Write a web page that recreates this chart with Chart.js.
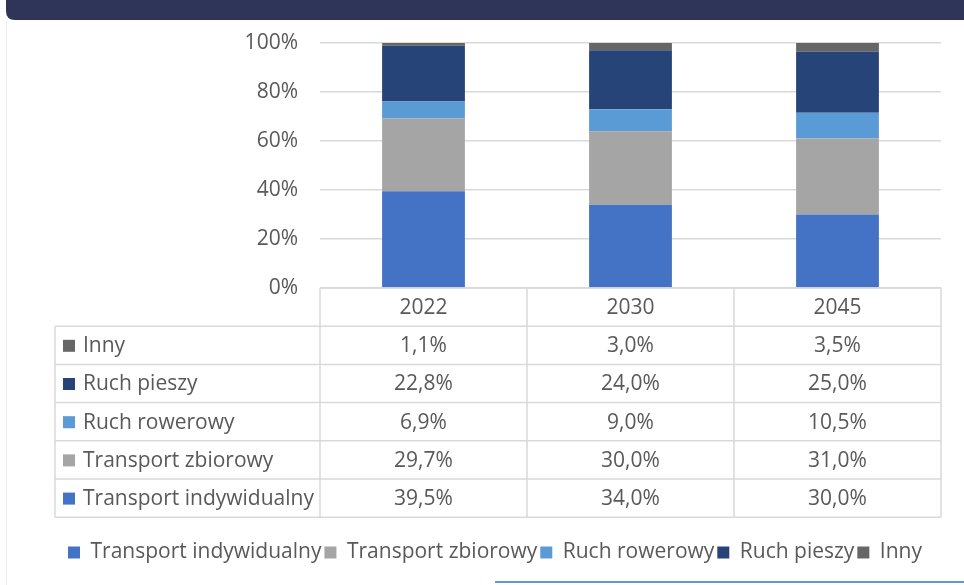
<!DOCTYPE html>
<html>
<head>
<meta charset="utf-8">
<script src="https://cdn.jsdelivr.net/npm/chart.js@4.4.1/dist/chart.umd.min.js"></script>
<style>
  html, body { margin: 0; padding: 0; background: #fff; }
  #wrap { width: 964px; height: 585px; position: relative; }
</style>
</head>
<body>
<div id="wrap"><canvas id="chart"></canvas></div>
<script>
var years = ['2022', '2030', '2045'];
var seriesNames = ['Transport indywidualny', 'Transport zbiorowy', 'Ruch rowerowy', 'Ruch pieszy', 'Inny'];
var indywidualny = [39.5, 34.0, 30.0];
var zbiorowy = [29.7, 30.0, 31.0];
var rowerowy = [6.9, 9.0, 10.5];
var pieszy = [22.8, 24.0, 25.0];
var inny = [1.1, 3.0, 3.5];
var yTicks = [0, 20, 40, 60, 80, 100];

var colors = ['#4472C4', '#A5A5A5', '#5B9BD5', '#264478', '#666666'];
var textColor = '#595959';
var lineColor = '#D9D9D9';
var fontFamily = '"Open Sans", sans-serif';

function pct(v) {
    return v.toFixed(1).replace('.', ',') + '%';
}

// frame pieces around the chart (header bar, left edge, bottom accent)
var framePlugin = {
    id: 'frame',
    beforeDraw: function(chart) {
        var ctx = chart.ctx;
        ctx.save();
        ctx.fillStyle = '#2E3559';
        ctx.beginPath();
        ctx.moveTo(6, -10);
        ctx.lineTo(6, 11);
        ctx.quadraticCurveTo(6, 20, 15, 20);
        ctx.lineTo(964, 20);
        ctx.lineTo(964, -10);
        ctx.closePath();
        ctx.fill();
        ctx.strokeStyle = '#ECECEC';
        ctx.lineWidth = 1;
        ctx.beginPath();
        ctx.moveTo(6.5, 20);
        ctx.lineTo(6.5, 585);
        ctx.stroke();
        ctx.strokeStyle = '#5B9BD5';
        ctx.lineWidth = 2;
        ctx.beginPath();
        ctx.moveTo(495, 582);
        ctx.lineTo(964, 582);
        ctx.stroke();
        ctx.restore();
    }
};

// data table under the plot
var tablePlugin = {
    id: 'dataTable',
    afterDraw: function(chart) {
        var ctx = chart.ctx;
        var area = chart.chartArea;
        var xs = chart.scales.x;
        var n = years.length;
        var colW = (area.right - area.left) / n;
        var top = area.bottom;
        var rowH = 38.2;
        var tableLeft = 55;
        var rows = chart.data.datasets.slice().reverse();
        var bottom = top + rowH * (rows.length + 1);

        ctx.save();
        ctx.strokeStyle = lineColor;
        ctx.lineWidth = 1.5;
        ctx.beginPath();
        // header row
        ctx.moveTo(area.left, top);
        ctx.lineTo(area.right, top);
        for (var r = 1; r <= rows.length + 1; r++) {
            ctx.moveTo(tableLeft, top + r * rowH);
            ctx.lineTo(area.right, top + r * rowH);
        }
        ctx.moveTo(tableLeft, top + rowH);
        ctx.lineTo(tableLeft, bottom);
        for (var c = 0; c <= n; c++) {
            var cx = area.left + c * colW;
            ctx.moveTo(cx, top);
            ctx.lineTo(cx, bottom);
        }
        ctx.stroke();

        ctx.font = '21px ' + fontFamily;
        ctx.fillStyle = textColor;
        ctx.textAlign = 'center';
        ctx.textBaseline = 'middle';
        for (var i = 0; i < n; i++) {
            ctx.fillText(years[i], xs.getPixelForValue(i), top + rowH / 2 + 1);
        }
        rows.forEach(function(ds, ri) {
            var cy = top + (ri + 1.5) * rowH + 1;
            ctx.fillStyle = ds.backgroundColor;
            ctx.fillRect(63, cy - 6.5, 12, 12);
            ctx.fillStyle = textColor;
            ctx.textAlign = 'left';
            ctx.fillText(ds.label, 83, cy);
            ctx.textAlign = 'center';
            for (var j = 0; j < n; j++) {
                ctx.fillText(pct(ds.data[j]), xs.getPixelForValue(j), cy);
            }
        });
        ctx.restore();
    }
};

var seriesData = [indywidualny, zbiorowy, rowerowy, pieszy, inny];

var ctx = document.getElementById('chart').getContext('2d');
var chart = new Chart(ctx, {
    type: 'bar',
    data: {
        labels: years,
        datasets: seriesNames.map(function(name, k) {
            return {
                label: name,
                data: seriesData[k],
                backgroundColor: colors[k],
                borderWidth: 0,
                barPercentage: 0.4,
                categoryPercentage: 1.0
            };
        })
    },
    options: {
        responsive: true,
        maintainAspectRatio: false,
        animation: false,
        layout: { padding: { left: 49, right: 23, top: 43, bottom: 12 } },
        scales: {
            x: {
                stacked: true,
                ticks: { display: false },
                grid: { display: false },
                border: { display: false },
                afterFit: function(scale) { scale.height = 251; }
            },
            y: {
                stacked: true,
                min: 0,
                max: 100,
                afterBuildTicks: function(scale) {
                    scale.ticks = yTicks.map(function(v) { return { value: v }; });
                },
                afterFit: function(scale) { scale.width = 271; },
                ticks: {
                    padding: 22,
                    color: textColor,
                    font: { family: fontFamily, size: 21 },
                    callback: function(v) { return v + '%'; }
                },
                grid: { color: lineColor, lineWidth: 1.5, drawTicks: false },
                border: { display: false }
            }
        },
        plugins: {
            legend: {
                position: 'bottom',
                labels: {
                    color: textColor,
                    font: { family: fontFamily, size: 21 },
                    boxWidth: 12,
                    boxHeight: 12,
                    padding: 3
                }
            },
            tooltip: { enabled: false }
        }
    },
    plugins: [framePlugin, tablePlugin]
});
</script>
</body>
</html>
